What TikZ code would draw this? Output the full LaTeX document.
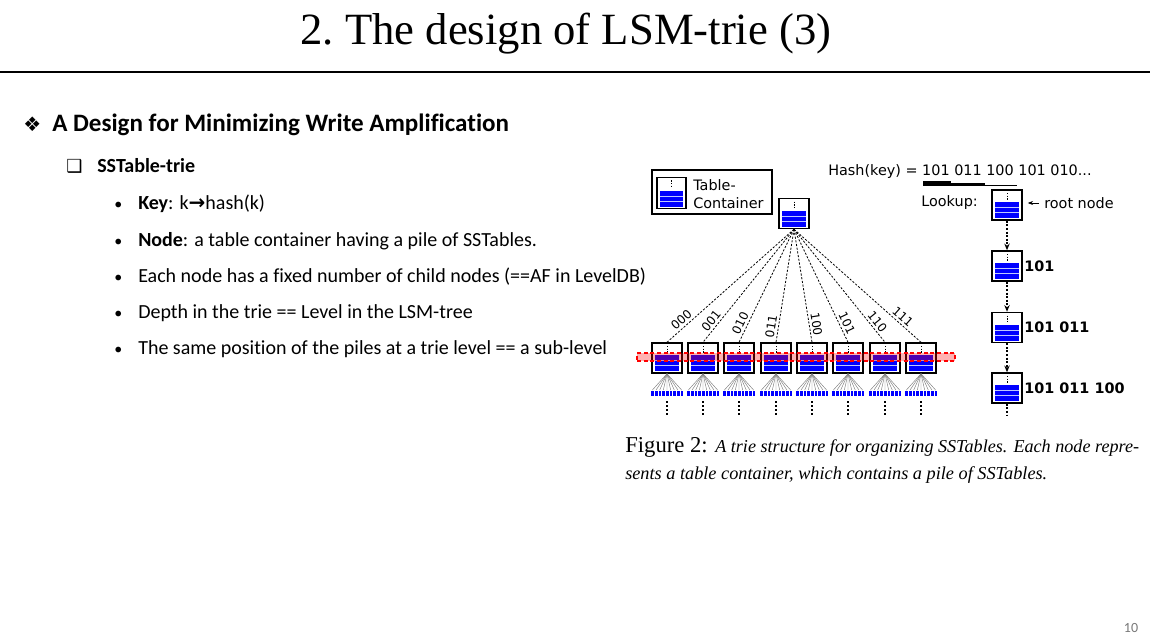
\documentclass[tikz,border=0pt]{standalone}
\usepackage{fontspec}
\setmainfont{Liberation Serif}
\newfontfamily\calfont{Carlito}[Ligatures=NoCommon]
\newfontfamily\dvfont{DejaVu Sans}
\usetikzlibrary{arrows.meta,calc}
\definecolor{stripe}{RGB}{190,200,255}
\definecolor{pagegray}{RGB}{120,120,120}
\tikzset{
  cont/.style={draw=black, line width=1.1pt, fill=white, inner sep=0pt,
    minimum width=22.5pt, minimum height=22.5pt,
    path picture={
      \coordinate (ppnw) at (path picture bounding box.north west);
      \coordinate (ppse) at (path picture bounding box.south east);
      \coordinate (ppn) at (path picture bounding box.north);
      \fill[blue] ($(ppse)+(-3,-2)$) rectangle ($(ppnw|-ppse)+(3,-18)$);
      \draw[stripe, line width=0.6pt] ($(ppse)+(-3,-7.5)$) -- ($(ppnw|-ppse)+(3,-7.5)$);
      \draw[stripe, line width=0.6pt] ($(ppse)+(-3,-12.5)$) -- ($(ppnw|-ppse)+(3,-12.5)$);
      \draw[black, line width=0.6pt, dash pattern=on 1pt off 1pt] ($(ppn)+(0,3)$) -- ($(ppn)+(0,10)$);
    }},
  fanedge/.style={black, line width=0.6pt, dash pattern=on 1.6pt off 1.2pt},
  edgelab/.style={font=\dvfont\fontsize{9}{10}\selectfont, sloped, above=1.2pt, inner sep=0.5pt},
  leaf/.style={fill=blue, draw=white, line width=0.15pt, minimum width=2.75pt, minimum height=4.2pt, inner sep=0pt},
  leafline/.style={gray, line width=0.35pt},
  below dots/.style={black, line width=1.3pt, dash pattern=on 1.5pt off 1.5pt},
  lookarrow/.style={black, line width=0.9pt, dash pattern=on 1.5pt off 1.2pt, -{Stealth[length=5pt,width=4pt]}},
  lookline/.style={black, line width=0.9pt, dash pattern=on 1.5pt off 1.2pt},
  difont/.style={font=\dvfont\fontsize{10.8}{13.5}\selectfont},
  bodytext/.style={font=\calfont\fontsize{15}{17}\selectfont, anchor=base west, inner sep=0pt},
  bullet/.style={font=\calfont\fontsize{12}{14}\selectfont, anchor=base west, inner sep=0pt},
}
\begin{document}
\begin{tikzpicture}[x=0.75pt,y=-0.75pt]
\useasboundingbox (0,0) rectangle (1156,642);
% title
\node[font=\fontsize{33.5}{38}\selectfont, anchor=base, inner sep=0pt] (title) at (566,45) {\frenchspacing 2. The design of LSM-trie (3)};
\draw[line width=1.6pt] (0,72) -- (1150,72);
% left text
\node[font=\dvfont\fontsize{15}{16}\selectfont, anchor=base west, inner sep=0pt] (dia) at (23,132) {❖};
\node[font=\calfont\bfseries\fontsize{18.8}{20}\selectfont, anchor=base west, inner sep=0pt] (head) at (52,132) {A Design for Minimizing Write Amplification};
\node[font=\dvfont\fontsize{13.5}{14}\selectfont, anchor=base west, inner sep=0pt] (sq) at (66,172) {❑};
\node[font=\calfont\bfseries\fontsize{15}{17}\selectfont, anchor=base west, inner sep=0pt] (sub) at (97,172) {SSTable-trie};
\foreach \y/\n in {209/1,246/2,282/3,318/4,354/5}{
  \node[bullet] (b\n) at (114,\y) {•};
}
\node[bodytext] (t1) at (138,209) {\textbf{Key}: k{\dvfont\bfseries →}hash(k)};
\node[bodytext] (t2) at (138,246) {\textbf{Node}: a table container having a pile of SSTables.};
\node[bodytext] (t3) at (138,282) {Each node has a fixed number of child nodes (==AF in LevelDB)};
\node[bodytext] (t4) at (138,318) {Depth in the trie == Level in the LSM-tree};
\node[bodytext] (t5) at (138,354) {The same position of the piles at a trie level == a sub-level};
% legend
\node[draw=black, line width=0.9pt, minimum width=90pt, minimum height=33pt, inner sep=0pt] (legend) at (712,192) {};
\node[cont, minimum width=21.75pt, minimum height=23.5pt, line width=1pt] (legicon) at (671.5,193) {};
\node[difont, anchor=base west, inner sep=0pt] (legtext1) at (693,190) {Table-};
\node[difont, anchor=base west, inner sep=0pt] (legtext2) at (693,208) {Container};
% root
\node[cont] (root) at (794,213.5) {};
% children
\foreach \x/\l/\p [count=\i] in {667/000/0.85,703/001/0.85,739/010/0.86,776/011/0.87,812/100/0.85,848/101/0.86,885/110/0.855,921/111/0.82}{
  \node[cont] (c\i) at (\x,358) {};
  \draw[fanedge] (root.south) -- (c\i.north) node[edgelab, pos=\p] {\l};
  \foreach \j in {0,...,8}{
    \node[leaf] (l\i-\j) at ({\x-16.5+3.667*(\j+0.5)},393) {};
    \draw[leafline] (c\i.south) -- (l\i-\j.north);
  }
  \coordinate (da\i) at (\x,401);
  \coordinate (db\i) at (\x,416);
  \draw[below dots] (da\i) -- (db\i);
}
% red band
\node[draw=red, dash pattern=on 3pt off 2pt, line width=0.8pt, fill=red, fill opacity=0.3, draw opacity=1, minimum width=238.5pt, minimum height=6pt, inner sep=0pt] (band) at (796,357) {};
% hash
\node[difont, anchor=west, inner sep=0pt] (hash) at (828,172) {Hash(key) = 101 011 100 101 010...};
\draw[line width=1.9pt] (923,182.5) -- (951,182.5);
\draw[line width=1.3pt] (923,184) -- (985,184);
\draw[line width=0.8pt] (923,185.5) -- (1017,185.5);
\draw[gray, line width=0.5pt] (992,189) -- (1017,189);
% lookup chain
\node[cont] (lk0) at (1007,205) {};
\node[cont] (lk1) at (1007,266) {};
\node[cont] (lk2) at (1007,327.5) {};
\node[cont] (lk3) at (1007,388) {};
\node[difont, anchor=east, inner sep=0pt] (lookup) at (978,203) {Lookup:};
\node[difont, anchor=west, inner sep=0pt] (rootlab) at (1044,203) {root node};
\draw[line width=0.6pt, -{Stealth[length=4pt,width=3pt]}] (rootlab.west) ++(-5,0) -- ($(lk0.east)+(5,-2)$);
\draw[lookarrow] (lk0.south) -- (lk1.north);
\draw[lookarrow] (lk1.south) -- (lk2.north);
\draw[lookarrow] (lk2.south) -- (lk3.north);
\coordinate (lkend) at (1007,416);
\draw[lookline] (lk3.south) -- (lkend);
\node[font=\dvfont\bfseries\fontsize{10.8}{12}\selectfont, anchor=west, inner sep=1pt] (lab1) at (lk1.east) {101};
\node[font=\dvfont\bfseries\fontsize{10.8}{12}\selectfont, anchor=west, inner sep=1pt] (lab2) at (lk2.east) {101 011};
\node[font=\dvfont\bfseries\fontsize{10.8}{12}\selectfont, anchor=west, inner sep=1pt] (lab3) at (lk3.east) {101 011 100};
% caption
\node[anchor=base west, inner sep=0pt, font=\fontsize{17}{19}\selectfont] (cap1) at (625,452) {Figure 2: {\itshape\fontsize{13.6}{16}\selectfont A trie structure for organizing SSTables. Each node repre-}};
\node[anchor=base west, inner sep=0pt, font=\itshape\fontsize{13.7}{16}\selectfont] (cap2) at (625,479) {sents a table container, which contains a pile of SSTables.};
% page number
\node[font=\calfont\fontsize{10.5}{12}\selectfont, text=pagegray, anchor=base, inner sep=0pt] (page) at (1131,632) {10};
\end{tikzpicture}
\end{document}
